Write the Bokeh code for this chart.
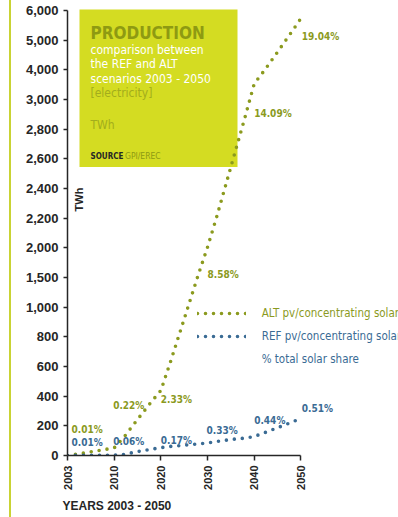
import numpy as np
from bokeh.plotting import figure
from bokeh.models import (Range1d, FixedTicker, BoxAnnotation, Label, Legend,
                          LegendItem, ColumnDataSource, Div)
from bokeh.layouts import row
from bokeh.embed import file_html
from bokeh.resources import INLINE
from bokeh.core.properties import value

# ---------------- data ----------------
years = [2003, 2005, 2008, 2010, 2012, 2015, 2018, 2020, 2022, 2025, 2028,
         2030, 2032, 2035, 2038, 2040, 2042, 2045, 2048, 2050]
alt_twh = [0, 13, 36, 51, 120, 243, 363, 438, 625, 920, 1541,
           2004, 2212, 2545, 2876, 3530, 3940, 4600, 5270, 5730]
ref_twh = [0, 1, 1, 2, 7, 26, 42, 53, 61, 69, 78,
           84, 94, 108, 117, 128, 151, 187, 224, 249]

label_years = [2003, 2010, 2020, 2030, 2040, 2050]
alt_share = ["0.01%", "0.22%", "2.33%", "8.58%", "14.09%", "19.04%"]
ref_share = ["0.01%", "0.06%", "0.17%", "0.33%", "0.44%", "0.51%"]

y_tick_values = [0, 200, 400, 600, 800, 1000, 1500, 2000, 2200, 2400, 2600,
                 2800, 3000, 4000, 5000, 6000]
y_tick_labels = ["0", "200", "400", "600", "800", "1,000", "1,500", "2,000",
                 "2,200", "2,400", "2,600", "2,800", "3,000", "4,000",
                 "5,000", "6,000"]
x_tick_years = [2003, 2010, 2020, 2030, 2040, 2050]
x_tick_labels = ["2003", "2010", "2020", "2030", "2040", "2050"]

# label placement (screen pixel offsets, style only)
alt_dx = [4, -1, 0, 0, 0, 1]
alt_dy = [-26, -42, 9, 27, 30, 18]
ref_dx = [4, -1, 0, -1, 0, 1]
ref_dy = [-13, -14, -7, -13, -16, -10]

# ---------------- style ----------------
GREEN = "#8b9a1e"
BLUE = "#3a6b94"
BOX = "#d4dc22"
OLIVE = "#8e9a12"
OLIVE_L = "#a3ad1c"
DARK = "#262626"
LINE_Y = "#c9d334"
COND = "'DejaVu Sans Condensed', 'Liberation Sans Narrow', Roboto"
TICKF = "Liberation Sans"

# piecewise axis mapping (tick index space, as in the original chart)
def ty(v):
    return np.interp(v, y_tick_values, np.arange(len(y_tick_values)))

def tx(yr):
    return np.interp(yr, x_tick_years, np.arange(len(x_tick_years)))

SIDE_MARGIN, SIDE_W = 9, 2
FIG_W, FIG_H = 398 - SIDE_MARGIN - SIDE_W, 517
LEFT, BOTTOM = 56, 62
XPX, YPX = 46.67, 29.667
PAGE_X0 = SIDE_MARGIN + SIDE_W + LEFT   # page x of frame left
PAGE_Y0 = FIG_H - BOTTOM                # page y of frame bottom
x_end = (FIG_W - LEFT) / XPX
y_end = (FIG_H - BOTTOM) / YPX

def dx(px):
    return (px - PAGE_X0) / XPX

def dy(py):
    return (PAGE_Y0 - py) / YPX

p = figure(width=FIG_W, height=FIG_H, x_range=Range1d(0, x_end),
           y_range=Range1d(0, y_end), output_backend="svg",
           toolbar_location=None, min_border_left=LEFT, min_border_right=0,
           min_border_top=0, min_border_bottom=BOTTOM,
           title="YEARS 2003 - 2050", title_location="below")
p.outline_line_color = None
p.grid.visible = False
p.background_fill_color = "white"
p.border_fill_color = "white"

p.title.text_font = TICKF
p.title.text_font_size = "12px"
p.title.text_font_style = "bold"
p.title.text_color = DARK
p.title.align = "left"
p.title.offset = -5
p.title.standoff = 9

# axes
ya = p.yaxis[0]
ya.ticker = FixedTicker(ticks=list(range(len(y_tick_values))))
ya.major_label_overrides = {i: t for i, t in enumerate(y_tick_labels)}
ya.bounds = (0, len(y_tick_values) - 1)
xa = p.xaxis[0]
xa.ticker = FixedTicker(ticks=list(range(len(x_tick_years))))
xa.major_label_overrides = {i: t for i, t in enumerate(x_tick_labels)}
xa.bounds = (0, len(x_tick_years) - 1)
xa.major_label_orientation = np.pi / 2
for ax in (xa, ya):
    ax.axis_line_color = DARK
    ax.axis_line_width = 1.5
    ax.major_tick_line_color = DARK
    ax.major_tick_line_width = 1.5
    ax.major_tick_in = 0
    ax.minor_tick_line_color = None
    ax.major_label_text_font = TICKF
    ax.major_label_text_font_style = "bold"
    ax.major_label_text_color = DARK
ya.major_tick_out = 4
ya.major_label_standoff = 5
ya.major_label_text_font_size = "13px"
xa.major_tick_out = 5
xa.major_label_standoff = 5
xa.major_label_text_font_size = "11px"

# title box
p.add_layout(BoxAnnotation(left=dx(79), right=dx(237), top=dy(9), bottom=dy(166.5),
                           fill_color=BOX, fill_alpha=1, line_alpha=0, level="underlay"))

def lab(text, px, py, size, color, style="normal", font=COND, angle=0,
        align="left", baseline="alphabetic"):
    p.add_layout(Label(x=dx(px), y=dy(py), text=text, text_font=font,
                       text_font_size=size, text_color=color,
                       text_font_style=style, angle=angle, text_align=align,
                       text_baseline=baseline))

lab("PRODUCTION", 90, 32, "17px", OLIVE, "bold")
lab("comparison between", 90, 49, "12px", "white")
lab("the REF and ALT", 90, 63.5, "12px", "white")
lab("scenarios 2003 - 2050", 90, 78, "12px", "white")
lab("[electricity]", 90, 92, "12px", OLIVE_L)
lab("TWh", 90, 124, "12px", OLIVE_L)
lab("SOURCE", 90, 155.5, "8px", DARK, "bold")
lab("GPI/EREC", 124.5, 155.5, "8.5px", OLIVE)
lab("TWh", 78, 199, "11px", DARK, "bold", font=TICKF, angle=np.pi / 2,
    align="center", baseline="middle")

# series
src = ColumnDataSource(dict(x=tx(years), alt=ty(alt_twh), ref=ty(ref_twh)))
alt_r = p.line("x", "alt", source=src, line_color=GREEN, line_width=3.6,
               line_dash="0 8", line_cap="round")
ref_r = p.line("x", "ref", source=src, line_color=BLUE, line_width=3.6,
               line_dash="0 8", line_cap="round")

# share labels
alt_at = np.interp(label_years, years, alt_twh)
ref_at = np.interp(label_years, years, ref_twh)
lsrc_a = ColumnDataSource(dict(x=tx(label_years), y=ty(alt_at), t=alt_share,
                               dx=alt_dx, dy=alt_dy))
lsrc_r = ColumnDataSource(dict(x=tx(label_years), y=ty(ref_at), t=ref_share,
                               dx=ref_dx, dy=ref_dy))
for s, c in ((lsrc_a, GREEN), (lsrc_r, BLUE)):
    p.text("x", "y", text="t", x_offset="dx", y_offset="dy", source=s,
           text_color=c, text_font=value(COND), text_font_size="10px",
           text_font_style="bold", text_align="left", text_baseline="middle")

# legends
common = dict(glyph_width=49, glyph_height=20, label_height=20,
              label_standoff=16, spacing=3, padding=0, margin=0,
              border_line_alpha=0, background_fill_alpha=0,
              label_text_font=COND, label_text_font_size="11.5px",
              label_text_baseline="middle")
leg1 = Legend(items=[LegendItem(label="ALT pv/concentrating solar", renderers=[alt_r])],
              location=(196.7 - PAGE_X0, PAGE_Y0 - 323), label_text_color=GREEN,
              **common)
leg2 = Legend(items=[LegendItem(label="REF pv/concentrating solar", renderers=[ref_r]),
                     LegendItem(label="% total solar share", renderers=[])],
              location=(196.7 - PAGE_X0, PAGE_Y0 - 369), label_text_color=BLUE,
              **common)
p.add_layout(leg1, "center")
p.add_layout(leg2, "center")

side = Div(text="", width=SIDE_W, height=FIG_H, margin=(0, 0, 0, SIDE_MARGIN),
           styles={"background-color": LINE_Y})
layout = row(side, p, spacing=0)

open("out.html", "w").write(file_html(layout, INLINE))
